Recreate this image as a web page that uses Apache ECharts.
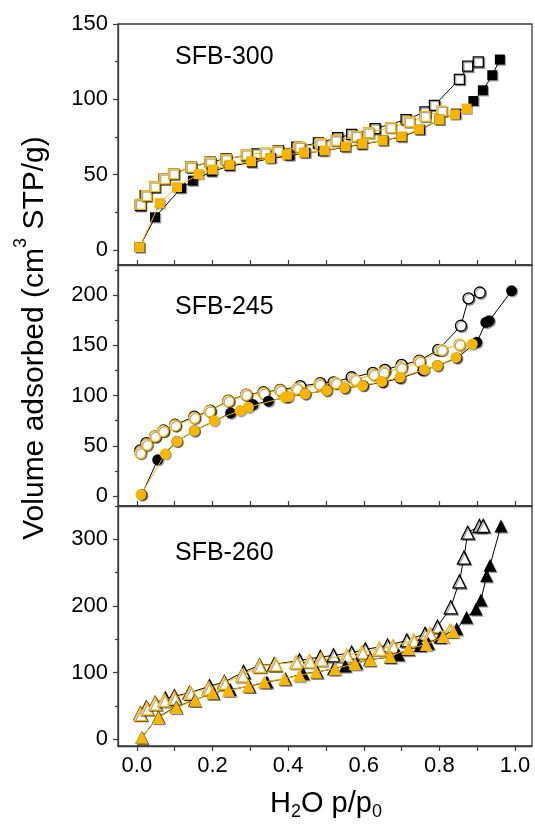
<!DOCTYPE html>
<html><head><meta charset="utf-8">
<script src="https://cdn.jsdelivr.net/npm/echarts@6/dist/echarts.min.js"></script>
<style>html,body{margin:0;padding:0;background:#fff}#c{width:535px;height:827px}</style>
</head><body><div id="c"></div>
<script>
const FONT = '"Liberation Sans", Arial, Helvetica, sans-serif';
const BLACK = '#000000';
const ORANGE = '#F7B500';
const AXIS = '#3a3a3a';

const panelNames = ['SFB-300', 'SFB-245', 'SFB-260'];
const panelSymbols = ['rect', 'circle', 'triangle'];
const panelSymbolSizes = [10, 11, 13];
const yMins = [-10, -10, -10];
const yMaxs = [150, 230, 350];
const yLabelValues = [[0, 50, 100, 150], [0, 50, 100, 150, 200], [0, 100, 200, 300]];
const yMinorValues = [[25, 75, 125], [25, 75, 125, 175, 225], [50, 150, 250, 350]];
const xTickValues = [0, 0.1, 0.2, 0.3, 0.4, 0.5, 0.6, 0.7, 0.8, 0.9, 1.0];
const xLabelValues = [0, 0.2, 0.4, 0.6, 0.8, 1.0];

// SFB-300 (squares)
const sfb300BlackAds = [[0.007,1.8],[0.048,21.7],[0.117,41],[0.148,46],[0.198,52],[0.245,55.7],[0.304,58],[0.355,61],[0.404,62.7],[0.446,64.5],[0.492,65.6],[0.551,68.3],[0.595,70],[0.652,72.7],[0.70,75],[0.749,79.8],[0.80,86.5],[0.844,90.5],[0.89,98.9],[0.915,106],[0.94,116],[0.96,126.4]];
const sfb300BlackDes = [[0.009,29.5],[0.022,36],[0.047,41.7],[0.072,47.2],[0.097,50.5],[0.143,55],[0.194,58.3],[0.236,60.5],[0.29,62.7],[0.317,63.8],[0.374,66],[0.423,68.3],[0.48,71],[0.531,74.5],[0.568,76.7],[0.63,80.5],[0.712,86.5],[0.762,91.6],[0.787,96],[0.853,113.3],[0.875,122],[0.903,124.8]];
const sfb300OrangeAds = [[0.007,1.8],[0.06,31],[0.106,41.7],[0.163,50.3],[0.2,53.4],[0.245,56.5],[0.302,58.8],[0.352,61],[0.396,63.2],[0.442,64.5],[0.496,66],[0.552,68.7],[0.596,70.5],[0.65,72.7],[0.70,75.4],[0.746,80],[0.80,86.5],[0.841,90],[0.872,93.8]];
const sfb300OrangeDes = [[0.009,30.2],[0.025,36],[0.047,42],[0.073,47.2],[0.097,50.5],[0.143,55],[0.194,57.9],[0.236,60],[0.289,63.2],[0.339,64.5],[0.372,65.6],[0.43,68.3],[0.486,70.5],[0.526,72.7],[0.58,75.4],[0.613,77.8],[0.671,81.2],[0.72,85],[0.762,88.7],[0.806,92.2]];

// SFB-245 (circles)
const sfb245BlackAds = [[0.013,1.3],[0.055,36],[0.106,54.3],[0.152,65],[0.248,82.5],[0.307,91],[0.348,94.4],[0.396,98.3],[0.445,101.7],[0.502,105],[0.55,107.3],[0.599,110],[0.65,113.2],[0.696,117.2],[0.756,124.8],[0.795,129.8],[0.846,137.4],[0.899,153],[0.923,172.8],[0.932,174.5],[0.991,204.3]];
const sfb245BlackDes = [[0.009,45.4],[0.025,52.6],[0.048,59.3],[0.07,65.2],[0.101,70.9],[0.152,79],[0.194,85],[0.242,95],[0.289,101],[0.335,103.3],[0.379,105.6],[0.432,109.3],[0.485,112.3],[0.52,113.2],[0.568,118.2],[0.624,122.5],[0.656,125.5],[0.70,130.5],[0.747,134.8],[0.797,145.4],[0.857,169.5],[0.877,196.7],[0.907,202.6]];
const sfb245OrangeAds = [[0.011,1.3],[0.075,42],[0.106,54.3],[0.152,65],[0.204,75],[0.273,85],[0.295,88.4],[0.392,98.3],[0.401,99],[0.445,101.7],[0.502,105],[0.549,107.6],[0.597,110],[0.648,113.9],[0.696,118.2],[0.76,125.8],[0.795,129.8],[0.844,138],[0.887,151.3]];
const sfb245OrangeDes = [[0.009,42.7],[0.026,51],[0.048,59.3],[0.069,64.6],[0.101,70.2],[0.152,77.8],[0.192,84.4],[0.242,94.4],[0.289,100.7],[0.335,102.3],[0.379,105],[0.423,106.6],[0.483,111],[0.526,112.3],[0.577,115.6],[0.626,120.9],[0.652,122.8],[0.699,127.5],[0.747,133.8],[0.806,145.4],[0.853,150.7]];

// SFB-260 (triangles)
const sfb260BlackAds = [[0.013,3],[0.057,33.8],[0.104,48.8],[0.152,58.7],[0.203,69.7],[0.247,74.6],[0.298,79.6],[0.344,86],[0.393,91],[0.44,98.5],[0.477,101],[0.52,106],[0.551,110],[0.581,114.4],[0.615,119.4],[0.67,123.4],[0.692,126.9],[0.718,134.8],[0.749,140.8],[0.771,144.3],[0.802,153.2],[0.846,165.7],[0.872,183],[0.897,195.5],[0.91,209],[0.925,245.3],[0.934,261.2],[0.963,320]];
const sfb260BlackDes = [[0.009,38.8],[0.025,47.8],[0.048,54.7],[0.075,61.2],[0.099,64.7],[0.139,69.7],[0.192,79.6],[0.231,86],[0.282,101],[0.324,111],[0.363,112.4],[0.43,118.4],[0.485,123.4],[0.52,125.9],[0.568,129.9],[0.604,134.8],[0.663,140.8],[0.714,148.3],[0.762,158.2],[0.795,169],[0.83,198],[0.853,236.8],[0.865,272.6],[0.875,310],[0.906,320],[0.916,320]];
const sfb260OrangeAds = [[0.013,3],[0.057,32.8],[0.104,47.8],[0.154,58.7],[0.2,69.7],[0.242,73.6],[0.295,79.6],[0.337,86],[0.39,91],[0.43,96],[0.474,101],[0.524,106],[0.577,113.4],[0.617,119.4],[0.67,124.4],[0.718,135.8],[0.765,142.3],[0.81,154.2],[0.837,161.7]];
const sfb260OrangeDes = [[0.009,37.8],[0.026,46.3],[0.048,53.7],[0.072,58.7],[0.099,62.2],[0.141,69.7],[0.189,76.1],[0.231,84.6],[0.278,96],[0.324,110],[0.366,112.4],[0.421,115.9],[0.456,117.4],[0.487,119.9],[0.555,125.9],[0.595,130.8],[0.641,135.8],[0.677,139.8],[0.731,148.3],[0.775,158.2],[0.828,163.2]];

const panelData = [
  {blackAds: sfb300BlackAds, blackDes: sfb300BlackDes, orangeAds: sfb300OrangeAds, orangeDes: sfb300OrangeDes},
  {blackAds: sfb245BlackAds, blackDes: sfb245BlackDes, orangeAds: sfb245OrangeAds, orangeDes: sfb245OrangeDes},
  {blackAds: sfb260BlackAds, blackDes: sfb260BlackDes, orangeAds: sfb260OrangeAds, orangeDes: sfb260OrangeDes}
];

const gridTops = [24, 265, 506];
const gridHeights = [241, 241, 240];
const titleY = [57, 307, 553];

const chart = echarts.init(document.getElementById('c'), null, {renderer: 'canvas'});

const grids = [], xAxes = [], yAxes = [], series = [], graphics = [];
for (let i = 0; i < 3; i++) {
  grids.push({left: 118, width: 414, top: gridTops[i], height: gridHeights[i], show: true,
    borderColor: AXIS, borderWidth: 1.3, backgroundColor: 'transparent', containLabel: false});
  const last = i === 2;
  xAxes.push({type: 'value', gridIndex: i, min: -0.05, max: 1.045, position: 'bottom',
    axisLine: {show: true, onZero: false, lineStyle: {color: AXIS, width: 1.3}},
    axisTick: {show: true, inside: !last, length: 5, customValues: xTickValues, lineStyle: {color: AXIS, width: 1.2}},
    axisLabel: {show: last, customValues: xLabelValues, margin: 9, color: '#000', fontSize: 22, fontFamily: FONT,
      formatter: v => v.toFixed(1)},
    splitLine: {show: false}});
}
for (let i = 0; i < 3; i++) {
  yAxes.push({type: 'value', gridIndex: i, min: yMins[i], max: yMaxs[i], position: 'left',
    axisLine: {show: true, onZero: false, lineStyle: {color: AXIS, width: 1.3}},
    axisTick: {show: true, inside: false, length: 5, customValues: yLabelValues[i], lineStyle: {color: AXIS, width: 1.2}},
    axisLabel: {show: true, customValues: yLabelValues[i], margin: 10, color: '#000', fontSize: 22, fontFamily: FONT},
    splitLine: {show: false}});
}
for (let i = 0; i < 3; i++) {
  yAxes.push({type: 'value', gridIndex: i, min: yMins[i], max: yMaxs[i], position: 'left', offset: 0,
    axisLine: {show: false, onZero: false},
    axisTick: {show: true, inside: false, length: 3, customValues: yMinorValues[i], lineStyle: {color: AXIS, width: 1.2}},
    axisLabel: {show: false},
    splitLine: {show: false}});
}

const shadow = {shadowColor: 'rgba(0,0,0,0.35)', shadowOffsetX: 1.3, shadowOffsetY: 1.3, shadowBlur: 0};
function mk(i, data, color, filled, z) {
  return {type: 'line', xAxisIndex: i, yAxisIndex: i, data: data, z: z,
    symbol: panelSymbols[i], symbolSize: panelSymbolSizes[i], showSymbol: true, showAllSymbol: true,
    lineStyle: {color: color, width: 1},
    itemStyle: Object.assign({color: filled ? color : '#ffffff', borderColor: color, borderWidth: filled ? 0 : 1.3}, shadow),
    emphasis: {disabled: true}, silent: true, animation: false};
}
for (let i = 0; i < 3; i++) {
  const d = panelData[i];
  series.push(mk(i, d.blackDes, BLACK, false, 2));
  series.push(mk(i, d.orangeDes, ORANGE, false, 3));
  series.push(mk(i, d.blackAds, BLACK, true, 4));
  series.push(mk(i, d.orangeAds, ORANGE, true, 5));
  graphics.push({type: 'text', x: 175, y: titleY[i], z: 100,
    style: {text: panelNames[i], font: '25px ' + FONT, fill: '#000', align: 'left', verticalAlign: 'middle',
      textAlign: 'left', textVerticalAlign: 'middle'}});
}

graphics.push({type: 'text', x: 326, y: 805, z: 100,
  style: {text: '{a|H}{b|2}{a|O p/p}{b|0}', align: 'center', verticalAlign: 'middle', textAlign: 'center', textVerticalAlign: 'middle',
    fill: '#000', font: '29px ' + FONT,
    rich: {a: {fontSize: 29, fontFamily: FONT, lineHeight: 32, verticalAlign: 'top', fill: '#000'},
           b: {fontSize: 18, fontFamily: FONT, lineHeight: 18, verticalAlign: 'bottom', fill: '#000'}}}});

graphics.push({type: 'text', x: 31, y: 338, rotation: Math.PI / 2, z: 100,
  style: {text: '{a|Volume adsorbed (cm}{s|3}{a| STP/g)}', align: 'center', verticalAlign: 'middle', textAlign: 'center', textVerticalAlign: 'middle',
    fill: '#000', font: '30px ' + FONT,
    rich: {a: {fontSize: 30, fontFamily: FONT, lineHeight: 38, verticalAlign: 'bottom', fill: '#000'},
           s: {fontSize: 18, fontFamily: FONT, lineHeight: 18, verticalAlign: 'top', fill: '#000'}}}});

chart.setOption({
  animation: false,
  backgroundColor: '#ffffff',
  grid: grids,
  xAxis: xAxes,
  yAxis: yAxes,
  series: series,
  graphic: graphics
});
</script>
</body></html>
